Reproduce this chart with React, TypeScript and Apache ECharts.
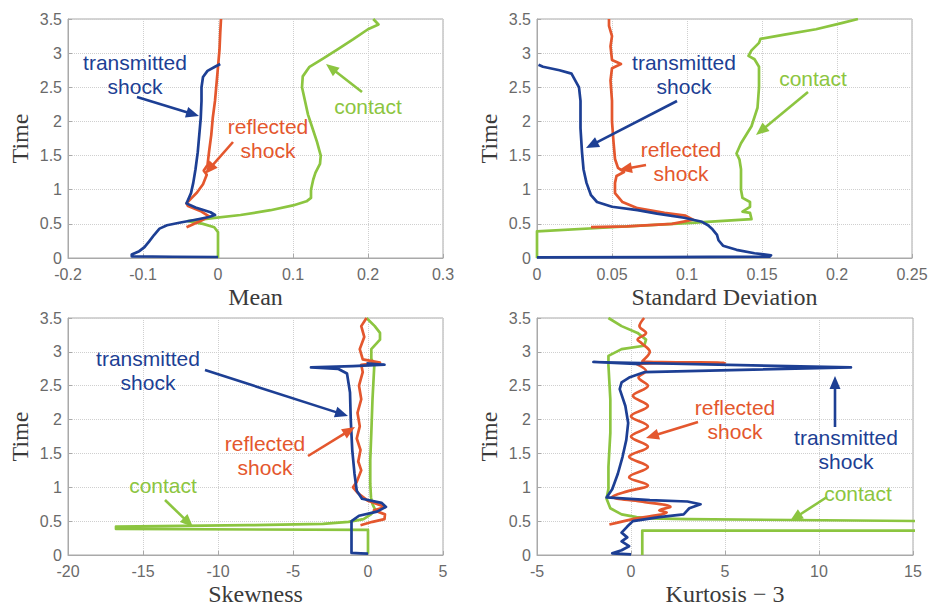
import React, { useEffect, useRef } from "react";
import * as echarts from "echarts";

type P = [number, number];

const BLUE = "#1d3f94";
const RED = "#e4572e";
const GREEN = "#8cc540";

const xTitles = ["Mean", "Standard Deviation", "Skewness", "Kurtosis \u2212 3"];
const yTitle = "Time";
const xRanges: [number, number, number][] = [
  [-0.2, 0.3, 0.1],
  [0, 0.25, 0.05],
  [-20, 5, 5],
  [-5, 15, 5],
];
const yRange: [number, number, number] = [0, 3.5, 0.5];

// ---- Mean ----
const meanTransmitted: P[] = [
  [0, 0.015], [-0.06, 0.018], [-0.115, 0.025], [-0.115, 0.05], [-0.105, 0.1], [-0.098, 0.16],
  [-0.092, 0.24], [-0.085, 0.34], [-0.078, 0.43], [-0.068, 0.48], [-0.05, 0.52], [-0.03, 0.56],
  [-0.012, 0.6], [-0.004, 0.63], [-0.01, 0.67], [-0.03, 0.74], [-0.042, 0.8], [-0.04, 0.85],
  [-0.036, 0.95], [-0.033, 1.1], [-0.03, 1.3], [-0.027, 1.55], [-0.025, 1.8], [-0.023, 2.05],
  [-0.022, 2.3], [-0.022, 2.5], [-0.02, 2.65], [-0.014, 2.74], [-0.004, 2.8], [0.003, 2.84],
];
const meanReflected: P[] = [
  [-0.042, 0.45], [-0.036, 0.48], [-0.022, 0.55], [-0.012, 0.61], [-0.022, 0.68], [-0.04, 0.76],
  [-0.042, 0.8], [-0.036, 0.87], [-0.028, 0.96], [-0.02, 1.08], [-0.015, 1.22], [-0.019, 1.28],
  [-0.014, 1.36], [-0.012, 1.55], [-0.009, 1.8], [-0.007, 2.05], [-0.004, 2.3], [-0.002, 2.55],
  [0, 2.8], [0.002, 3.05], [0.003, 3.3], [0.004, 3.5],
];
const meanContact: P[] = [
  [0, 0.0], [0, 0.38], [-0.005, 0.45], [-0.02, 0.5], [-0.04, 0.54], [-0.01, 0.58], [0.03, 0.63],
  [0.07, 0.7], [0.1, 0.77], [0.118, 0.83], [0.124, 0.88], [0.124, 1.0], [0.127, 1.15], [0.13, 1.25],
  [0.136, 1.38], [0.137, 1.5], [0.132, 1.7], [0.126, 1.9], [0.12, 2.1], [0.115, 2.35], [0.112, 2.5],
  [0.113, 2.66], [0.122, 2.8], [0.14, 2.92], [0.16, 3.06], [0.18, 3.2], [0.2, 3.35], [0.214, 3.42],
  [0.207, 3.5],
];

// ---- Standard deviation ----
const stdTransmitted: P[] = [
  [0, 0.01], [0.08, 0.012], [0.155, 0.02], [0.156, 0.04], [0.145, 0.07], [0.133, 0.12],
  [0.124, 0.18], [0.121, 0.26], [0.12, 0.34], [0.117, 0.42], [0.114, 0.48], [0.11, 0.53],
  [0.098, 0.59], [0.08, 0.65], [0.067, 0.7], [0.05, 0.75], [0.04, 0.82], [0.036, 0.92],
  [0.033, 1.1], [0.031, 1.3], [0.03, 1.55], [0.029, 1.9], [0.029, 2.3], [0.028, 2.5],
  [0.025, 2.62], [0.023, 2.7], [0.015, 2.75], [0.004, 2.8], [0.001, 2.83],
];
const stdReflected: P[] = [
  [0.036, 0.452], [0.06, 0.462], [0.09, 0.5], [0.104, 0.56], [0.099, 0.62], [0.085, 0.66],
  [0.067, 0.73], [0.057, 0.82], [0.052, 0.95], [0.052, 1.1], [0.053, 1.2], [0.058, 1.26],
  [0.054, 1.32], [0.052, 1.45], [0.051, 1.7], [0.05, 2.0], [0.05, 2.3], [0.049, 2.6],
  [0.05, 2.78], [0.056, 2.84], [0.05, 2.9], [0.049, 3.1], [0.05, 3.25], [0.048, 3.4], [0.048, 3.5],
];
const stdContact: P[] = [
  [0, 0], [0, 0.39], [0.05, 0.45], [0.1, 0.51], [0.143, 0.57], [0.142, 0.66], [0.137, 0.68],
  [0.142, 0.75], [0.142, 0.82], [0.137, 0.88], [0.136, 1.0], [0.136, 1.3], [0.135, 1.44],
  [0.133, 1.53], [0.136, 1.68], [0.143, 1.93], [0.147, 2.2], [0.148, 2.5], [0.148, 2.8],
  [0.145, 2.91], [0.141, 2.96], [0.143, 3.04], [0.148, 3.15], [0.149, 3.21], [0.165, 3.27],
  [0.186, 3.35], [0.203, 3.44], [0.214, 3.5],
];

// ---- Skewness ----
const skewTransmitted: P[] = [
  [0, 0.02], [-0.5, 0.025], [-1.1, 0.03], [-1.1, 0.2], [-1.1, 0.5], [-0.6, 0.58], [0.6, 0.64],
  [1.2, 0.71], [0.9, 0.77], [-0.4, 0.83], [-0.75, 0.95], [-0.9, 1.2], [-1.05, 1.55], [-1.15, 2.0],
  [-1.2, 2.4], [-1.4, 2.68], [-2.0, 2.75], [-3.8, 2.77], [-1.0, 2.79], [1.1, 2.81], [-0.1, 2.83],
];
const skewReflected: P[] = [
  [-0.5, 0.44], [0.3, 0.49], [1.1, 0.53], [1.13, 0.6], [0.4, 0.66], [1.15, 0.71], [0.0, 0.8],
  [-0.7, 0.92], [-1.0, 1.0], [-0.75, 1.08], [-0.45, 1.25], [-0.65, 1.38], [-0.5, 1.55],
  [-0.75, 1.72], [-0.55, 1.9], [-0.7, 2.1], [-0.45, 2.3], [-0.6, 2.5], [-0.35, 2.7],
  [-0.45, 2.81], [0.8, 2.84], [-0.35, 2.89], [-0.55, 3.04], [-0.25, 3.22], [-0.45, 3.38], [-0.1, 3.5],
];
const skewContact: P[] = [
  [0, 0.02], [0, 0.37], [-16.8, 0.385], [-16.8, 0.42], [-8, 0.44], [-3, 0.46], [-1.3, 0.49],
  [-0.3, 0.53], [0.2, 0.6], [0.5, 0.66], [0.3, 0.75], [0.2, 0.85], [0.15, 1.05], [0.15, 1.4],
  [0.22, 1.8], [0.3, 2.3], [0.42, 2.8], [0.22, 2.9], [0.22, 3.04], [0.8, 3.18], [0.8, 3.28],
  [0.45, 3.38], [-0.1, 3.5],
];

// ---- Kurtosis - 3 ----
const kurtTransmitted: P[] = [
  [0, 0.01], [-1.0, 0.025], [-0.5, 0.07], [-0.1, 0.13], [-0.5, 0.2], [-0.2, 0.26], [-0.5, 0.33],
  [-0.2, 0.42], [0.1, 0.5], [1.5, 0.56], [2.8, 0.6], [3.1, 0.69], [3.7, 0.75], [3.0, 0.79],
  [1.0, 0.81], [-1.3, 0.85], [-1.0, 0.97], [-0.7, 1.2], [-0.45, 1.45], [-0.25, 1.7],
  [-0.15, 1.95], [-0.3, 2.2], [-0.6, 2.45], [-0.5, 2.55], [-0.1, 2.62], [0.7, 2.7],
  [11.7, 2.77], [-2.0, 2.85], [0.5, 2.82],
];
const kurtReflected: P[] = [
  [-1.15, 0.45], [0.1, 0.53], [1.9, 0.63], [1.5, 0.66], [2.1, 0.71], [0.5, 0.79], [-1.0, 0.86],
  [-0.2, 0.94], [0.9, 1.03], [-0.1, 1.15], [0.9, 1.3], [-0.1, 1.45], [0.9, 1.6], [0.0, 1.75],
  [0.9, 1.9], [0.0, 2.05], [0.9, 2.2], [0.1, 2.35], [0.9, 2.5], [0.4, 2.62], [0.8, 2.72],
  [0.3, 2.82], [5.0, 2.84], [0.6, 2.86], [1.0, 3.0], [0.55, 3.13], [0.35, 3.18], [0.8, 3.28],
  [0.45, 3.38], [0.7, 3.5],
];
const kurtContact: P[] = [
  [0.6, 0], [0.6, 0.36], [16, 0.36], [16, 0.5], [3, 0.53], [1.0, 0.54], [0.3, 0.56], [-0.5, 0.6],
  [-1.1, 0.69], [-1.3, 0.83], [-1.2, 0.98], [-1.2, 1.3], [-1.1, 1.8], [-1.1, 2.3], [-1.2, 2.8],
  [-1.2, 2.94], [-0.5, 3.04], [0.7, 3.09], [0.8, 3.18], [0.35, 3.28], [-0.5, 3.38], [-1.2, 3.5],
];

const panels: { contact: P[]; reflected: P[]; transmitted: P[]; wavy?: boolean }[] = [
  { contact: meanContact, reflected: meanReflected, transmitted: meanTransmitted },
  { contact: stdContact, reflected: stdReflected, transmitted: stdTransmitted },
  { contact: skewContact, reflected: skewReflected, transmitted: skewTransmitted },
  { contact: kurtContact, reflected: kurtReflected, transmitted: kurtTransmitted, wavy: true },
];

// annotation labels
type Note = { lines: string[]; color: string; cx: number; cy: number; from: P; to: P };
const notes: Note[] = [
  { lines: ["transmitted", "shock"], color: BLUE, cx: 135, cy: 62, from: [137, 97], to: [199, 116] },
  { lines: ["reflected", "shock"], color: RED, cx: 268, cy: 126, from: [233, 142], to: [205, 174] },
  { lines: ["contact"], color: GREEN, cx: 368, cy: 106, from: [362, 92], to: [326, 64] },
  { lines: ["transmitted", "shock"], color: BLUE, cx: 684, cy: 62, from: [677, 101], to: [586, 148] },
  { lines: ["reflected", "shock"], color: RED, cx: 681, cy: 149, from: [646, 165], to: [619, 170] },
  { lines: ["contact"], color: GREEN, cx: 813, cy: 78, from: [808, 92], to: [756, 135] },
  { lines: ["transmitted", "shock"], color: BLUE, cx: 148, cy: 358, from: [205, 370], to: [348, 416] },
  { lines: ["reflected", "shock"], color: RED, cx: 265, cy: 443, from: [308, 456], to: [355, 427] },
  { lines: ["contact"], color: GREEN, cx: 163, cy: 485, from: [165, 500], to: [193, 527] },
  { lines: ["reflected", "shock"], color: RED, cx: 735, cy: 407, from: [698, 422], to: [646, 438] },
  { lines: ["transmitted", "shock"], color: BLUE, cx: 846, cy: 437, from: [835, 427], to: [835, 376] },
  { lines: ["contact"], color: GREEN, cx: 858, cy: 493, from: [827, 497], to: [790, 521] },
];

const grids = [
  { left: 68, top: 19, width: 375, height: 239 },
  { left: 537, top: 19, width: 375, height: 239 },
  { left: 68, top: 318, width: 375, height: 239 },
  { left: 537, top: 318, width: 376, height: 239 },
];

function arrow(n: Note) {
  const [x1, y1] = n.from;
  const [x2, y2] = n.to;
  const dx = x2 - x1;
  const dy = y2 - y1;
  const len = Math.sqrt(dx * dx + dy * dy);
  const ux = dx / len;
  const uy = dy / len;
  const hl = 13;
  const hw = 5.5;
  const bx = x2 - ux * hl;
  const by = y2 - uy * hl;
  return [
    {
      type: "line",
      shape: { x1, y1, x2: bx + ux * 2, y2: by + uy * 2 },
      style: { stroke: n.color, lineWidth: 2.6 },
    },
    {
      type: "polygon",
      shape: {
        points: [
          [x2, y2],
          [bx - uy * hw, by + ux * hw],
          [bx + uy * hw, by - ux * hw],
        ],
      },
      style: { fill: n.color },
    },
  ];
}

function buildOption() {
  const axisColor = "#a9a9a9";
  const xAxis = xRanges.map((r, i) => ({
    type: "value",
    gridIndex: i,
    min: r[0],
    max: r[1],
    interval: r[2],
    name: xTitles[i],
    nameLocation: "middle",
    nameGap: 27,
    nameTextStyle: { fontFamily: "Liberation Serif", fontSize: 24, color: "#3a3a3a" },
    axisLine: { show: true, onZero: false, lineStyle: { color: axisColor, width: 1 } },
    axisTick: { show: true, inside: true, length: 4, lineStyle: { color: axisColor } },
    axisLabel: {
      fontFamily: "Liberation Sans",
      fontSize: 16,
      color: "#6a6a6a",
      margin: 8,
      showMinLabel: true,
      showMaxLabel: true,
    },
    splitLine: { show: true, lineStyle: { type: "dotted", color: "#cfcfcf", width: 1 } },
  }));
  const yAxis = grids.map((_, i) => ({
    type: "value",
    gridIndex: i,
    min: yRange[0],
    max: yRange[1],
    interval: yRange[2],
    name: yTitle,
    nameLocation: "middle",
    nameGap: 36,
    nameTextStyle: { fontFamily: "Liberation Serif", fontSize: 24, color: "#3a3a3a" },
    axisLine: { show: true, onZero: false, lineStyle: { color: axisColor, width: 1 } },
    axisTick: { show: true, inside: true, length: 4, lineStyle: { color: axisColor } },
    axisLabel: {
      fontFamily: "Liberation Sans",
      fontSize: 16,
      color: "#6a6a6a",
      margin: 6,
      showMinLabel: true,
      showMaxLabel: true,
    },
    splitLine: { show: true, lineStyle: { type: "dotted", color: "#cfcfcf", width: 1 } },
  }));
  const series: any[] = [];
  panels.forEach((p, i) => {
    const mk = (data: P[], color: string, name: string, smooth: number | boolean = false) => ({
      type: "line",
      name,
      xAxisIndex: i,
      yAxisIndex: i,
      data,
      showSymbol: false,
      symbol: "none",
      clip: true,
      smooth,
      lineStyle: { color, width: 2.7, join: "round" },
      itemStyle: { color },
      silent: true,
    });
    series.push(mk(p.contact, GREEN, "contact"));
    series.push(mk(p.reflected, RED, "reflected shock", p.wavy ? 0.35 : false));
    series.push(mk(p.transmitted, BLUE, "transmitted shock"));
  });
  const graphic: any[] = [];
  notes.forEach((n) => {
    n.lines.forEach((t, k) => {
      graphic.push({
        type: "text",
        x: n.cx,
        y: n.cy + k * 24,
        z: 100,
        style: {
          text: t,
          fill: n.color,
          fontFamily: "Liberation Sans",
          fontSize: 21,
          align: "center",
          verticalAlign: "middle",
        },
      });
    });
    arrow(n).forEach((g) => graphic.push({ ...g, z: 100 }));
  });
  return {
    animation: false,
    backgroundColor: "#ffffff",
    grid: grids.map((g) => ({
      ...g,
      show: true,
      borderColor: axisColor,
      borderWidth: 1,
      backgroundColor: "transparent",
      containLabel: false,
    })),
    xAxis,
    yAxis,
    series,
    graphic,
  };
}

export default function App() {
  const ref = useRef<HTMLDivElement>(null);
  useEffect(() => {
    document.body.style.margin = "0";
    const chart = echarts.init(ref.current as HTMLDivElement, null, { renderer: "svg" });
    chart.setOption(buildOption() as any);
    return () => chart.dispose();
  }, []);
  return <div ref={ref} style={{ width: 933, height: 607 }} />;
}
